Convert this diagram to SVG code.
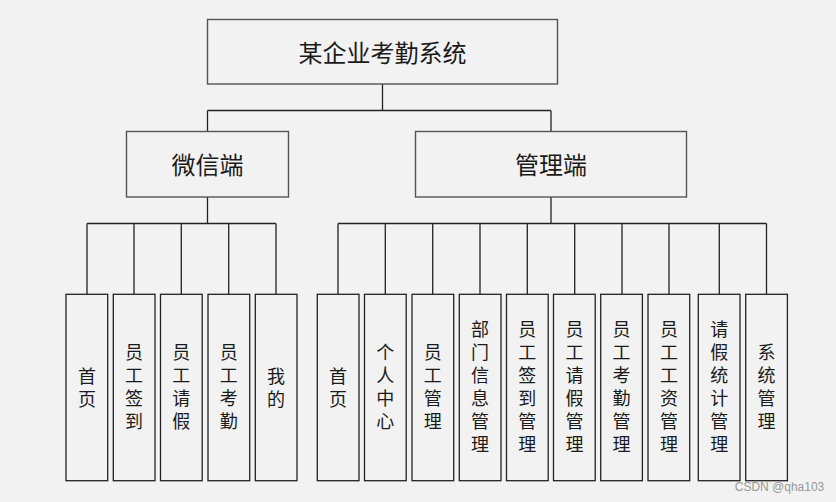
<svg xmlns="http://www.w3.org/2000/svg" width="836" height="502" viewBox="0 0 836 502">
<style>
.bg{fill:#f2f2f2}
.box{fill:#f2f2f2;stroke:#555;stroke-width:1.4}
.leaf{fill:#f2f2f2;stroke:#222;stroke-width:1.3}
.t{font-family:"Microsoft YaHei","Noto Sans CJK SC",sans-serif;fill:#1a1a1a;text-anchor:middle}
.big{font-size:24px;dominant-baseline:central}
.v{font-size:18px;writing-mode:vertical-rl;text-orientation:upright;letter-spacing:5px}
.conn{stroke:#222;stroke-width:1.3;fill:none}
.wm{font-family:"Liberation Sans",Arial,sans-serif;font-size:12px;fill:#999}
</style>
<rect class="bg" x="0" y="0" width="836" height="502"/>
<g id="connectors">
<path class="conn" d="M382.5 84V110.5M207.5 110.5H551M207.5 110.5V131.5M551 110.5V131.5"/>
<path class="conn" d="M207.5 197V223.5M87 223.5H276M87 223.5V294M134 223.5V294M181.3 223.5V294M228.7 223.5V294M276 223.5V294"/>
<path class="conn" d="M551 197V223.5M338 223.5H766.5M338 223.5V294M385.3 223.5V294M432.7 223.5V294M480 223.5V294M527.3 223.5V294M574.7 223.5V294M622 223.5V294M669 223.5V294M719.3 223.5V294M766.5 223.5V294"/>
</g>
<g id="root"><rect class="box" x="207.5" y="19.5" width="350" height="64.5"/><text class="t big" x="382.5" y="51.5">某企业考勤系统</text></g>
<g id="wechat"><rect class="box" x="126.5" y="131.5" width="162" height="65.5"/><text class="t big" x="207.5" y="163.5">微信端</text></g>
<g id="admin"><rect class="box" x="415.5" y="131.5" width="271" height="65.5"/><text class="t big" x="551" y="163.5">管理端</text></g>

<g id="w1"><rect class="leaf" x="66" y="294.3" width="41.7" height="186.4"/><text class="t v" x="87" y="390">首页</text></g>
<g id="w2"><rect class="leaf" x="113.3" y="294.3" width="41.7" height="186.4"/><text class="t v" x="134" y="389.5">员工签到</text></g>
<g id="w3"><rect class="leaf" x="160.5" y="294.3" width="41.7" height="186.4"/><text class="t v" x="181.3" y="389.5">员工请假</text></g>
<g id="w4"><rect class="leaf" x="208" y="294.3" width="41.7" height="186.4"/><text class="t v" x="228.7" y="389.5">员工考勤</text></g>
<g id="w5"><rect class="leaf" x="255.3" y="294.3" width="41.7" height="186.4"/><text class="t v" x="276" y="390">我的</text></g>

<g id="a1"><rect class="leaf" x="317.3" y="294.3" width="41.7" height="186.4"/><text class="t v" x="338" y="390">首页</text></g>
<g id="a2"><rect class="leaf" x="364.5" y="294.3" width="41.7" height="186.4"/><text class="t v" x="385.3" y="389.5">个人中心</text></g>
<g id="a3"><rect class="leaf" x="412" y="294.3" width="41.7" height="186.4"/><text class="t v" x="432.7" y="389.5">员工管理</text></g>
<g id="a4"><rect class="leaf" x="459.3" y="294.3" width="41.7" height="186.4"/><text class="t v" x="480" y="389.5">部门信息管理</text></g>
<g id="a5"><rect class="leaf" x="506.5" y="294.3" width="41.7" height="186.4"/><text class="t v" x="527.3" y="389.5">员工签到管理</text></g>
<g id="a6"><rect class="leaf" x="553.5" y="294.3" width="41.7" height="186.4"/><text class="t v" x="574.5" y="389.5">员工请假管理</text></g>
<g id="a7"><rect class="leaf" x="600.7" y="294.3" width="41.7" height="186.4"/><text class="t v" x="621.5" y="389.5">员工考勤管理</text></g>
<g id="a8"><rect class="leaf" x="648" y="294.3" width="41.7" height="186.4"/><text class="t v" x="669" y="389.5">员工工资管理</text></g>
<g id="a9"><rect class="leaf" x="698.3" y="294.3" width="41.7" height="186.4"/><text class="t v" x="719.2" y="389.5">请假统计管理</text></g>
<g id="a10"><rect class="leaf" x="745.7" y="294.3" width="41.7" height="186.4"/><text class="t v" x="766.5" y="389.5">系统管理</text></g>

<text class="wm" x="779.5" y="491" text-anchor="middle">CSDN @qha103</text>
</svg>
